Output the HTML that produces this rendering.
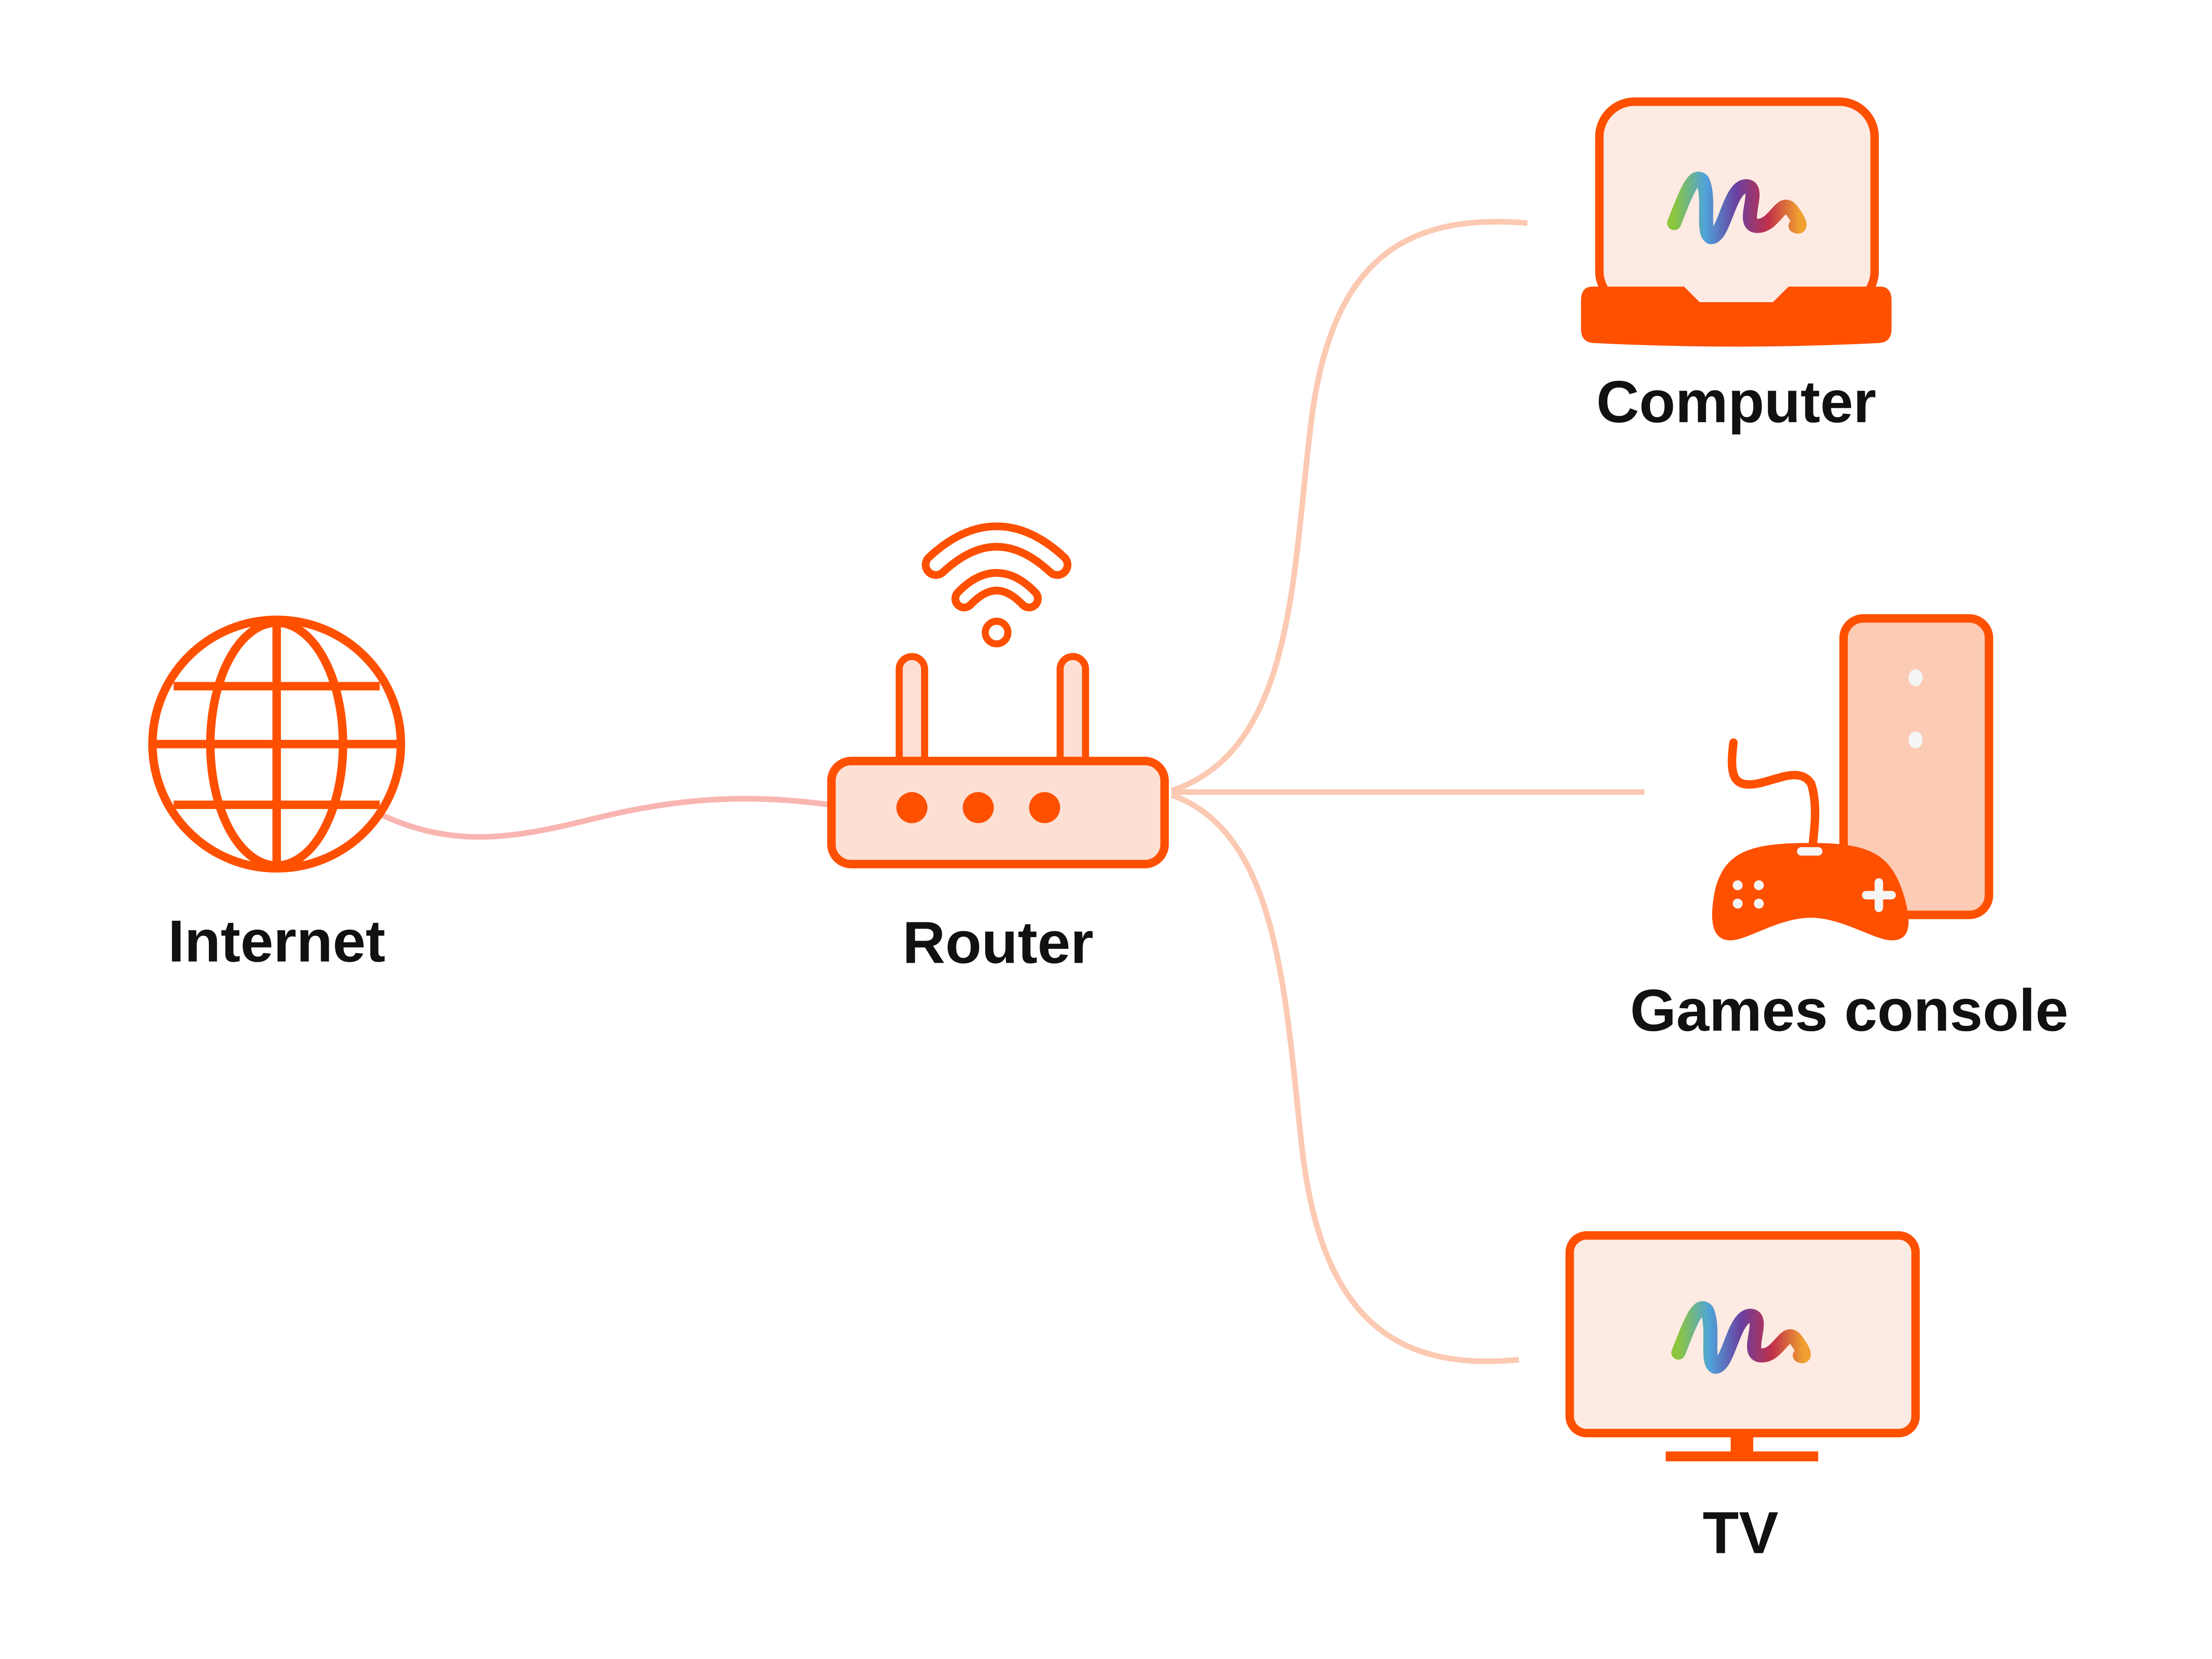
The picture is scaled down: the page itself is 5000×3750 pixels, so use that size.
<!DOCTYPE html>
<html><head><meta charset="utf-8"><style>
html,body{margin:0;padding:0;background:#fff;}
svg{display:block;}
text{font-family:"Liberation Sans",sans-serif;font-weight:bold;fill:#111;text-anchor:middle;}
</style></head><body>
<svg width="5000" height="3750" viewBox="0 0 1567 1175" preserveAspectRatio="none" xmlns="http://www.w3.org/2000/svg">
<defs>
<linearGradient id="lg" x1="0" y1="0" x2="1" y2="0">
<stop offset="0" stop-color="#8cc63f"/><stop offset="0.25" stop-color="#4fa3d9"/><stop offset="0.5" stop-color="#6a3fa0"/><stop offset="0.75" stop-color="#c0304a"/><stop offset="1" stop-color="#f0a030"/>
</linearGradient>
</defs>
<path d="M270,577 C320,600 360,595 420,580 C480,565 530,562 588,570" fill="none" stroke="#f9b5b0" stroke-width="4"/>
<path d="M830,560 C920,530 915,400 930,290 C945,190 990,150 1082,158" fill="none" stroke="#fcc9b2" stroke-width="4"/>
<path d="M830,561 L1165,561" fill="none" stroke="#fcc9b2" stroke-width="4"/>
<path d="M830,563 C905,590 910,700 922,810 C935,930 985,972 1076,963" fill="none" stroke="#fcc9b2" stroke-width="4"/>
<g fill="none" stroke="#ff5000" stroke-width="6">
<circle cx="196" cy="527" r="88"/>
<ellipse cx="196" cy="527" rx="47" ry="86"/>
<line x1="196" y1="441" x2="196" y2="613"/>
<line x1="123" y1="486" x2="269" y2="486"/>
<line x1="108" y1="527" x2="284" y2="527"/>
<line x1="123" y1="570" x2="269" y2="570"/>
</g>
<text x="196" y="681" font-size="42">Internet</text>
<rect x="637" y="465" width="18" height="80" rx="9" fill="#fde0d4" stroke="#ff5000" stroke-width="5"/>
<rect x="751" y="465" width="18" height="80" rx="9" fill="#fde0d4" stroke="#ff5000" stroke-width="5"/>
<rect x="589" y="539" width="236" height="73" rx="14" fill="#fde0d4" stroke="#ff5000" stroke-width="6"/>
<circle cx="646" cy="572" r="11" fill="#ff5000"/>
<circle cx="693" cy="572" r="11" fill="#ff5000"/>
<circle cx="740" cy="572" r="11" fill="#ff5000"/>
<g fill="none" stroke-linecap="round">
<path d="M663,400 Q706,360 749,400" stroke="#ff5000" stroke-width="20"/>
<path d="M663,400 Q706,360 749,400" stroke="#fff" stroke-width="9"/>
<path d="M683,424 Q706,400 729,424" stroke="#ff5000" stroke-width="18"/>
<path d="M683,424 Q706,400 729,424" stroke="#fff" stroke-width="7"/>
</g>
<circle cx="706" cy="448" r="8" fill="#fff" stroke="#ff5000" stroke-width="5"/>
<text x="707" y="682" font-size="42">Router</text>
<rect x="1133" y="72" width="195" height="145" rx="25" fill="#fdeae2" stroke="#ff5000" stroke-width="6"/>
<path d="M1128,203 H1193 L1205,215 H1255 L1267,203 H1332 Q1340,203 1340,213 V233 Q1340,243 1330,243 Q1230,248 1130,243 Q1120,243 1120,233 V213 Q1120,203 1128,203 Z" fill="#ff5000"/>
<path d="M1186,158 C1195,135 1200,122 1206,128 C1212,140 1205,165 1212,168 C1222,168 1225,130 1238,132 C1248,134 1232,160 1245,160 C1258,160 1262,138 1270,150 C1276,158 1276,162 1272,160" fill="none" stroke="url(#lg)" stroke-width="10" stroke-linecap="round" stroke-linejoin="round"/>
<text x="1230" y="299" font-size="42">Computer</text>
<rect x="1306" y="438" width="103" height="210" rx="14" fill="#fccbb4" stroke="#ff5000" stroke-width="6"/>
<ellipse cx="1357" cy="480" rx="5" ry="6" fill="#f5f5f5"/>
<ellipse cx="1357" cy="524" rx="5" ry="6" fill="#f5f5f5"/>
<path d="M1228,526 C1225,550 1228,558 1245,555 C1260,552 1275,543 1283,555 C1288,570 1285,590 1284,600" fill="none" stroke="#ff5000" stroke-width="6" stroke-linecap="round"/>
<path d="M1283,597 C1325,597 1340,605 1349,635 C1356,660 1350,666 1340,666 C1328,666 1305,650 1283,650 C1260,650 1238,666 1226,666 C1214,666 1210,655 1215,630 C1222,603 1240,597 1283,597 Z" fill="#ff5000"/>
<rect x="1273" y="600" width="18" height="6" rx="3" fill="#f5f5f5"/>
<circle cx="1231" cy="627" r="3.5" fill="#f5f5f5"/><circle cx="1246" cy="627" r="3.5" fill="#f5f5f5"/>
<circle cx="1231" cy="640" r="3.5" fill="#f5f5f5"/><circle cx="1246" cy="640" r="3.5" fill="#f5f5f5"/>
<rect x="1328" y="622" width="6" height="24" rx="3" fill="#f5f5f5"/>
<rect x="1319" y="631" width="24" height="6" rx="3" fill="#f5f5f5"/>
<text x="1310" y="730" font-size="42">Games console</text>
<rect x="1112" y="875" width="245" height="140" rx="12" fill="#fdeae2" stroke="#ff5000" stroke-width="6"/>
<rect x="1226" y="1015" width="16" height="14" fill="#ff5000"/>
<rect x="1180" y="1028" width="108" height="7" fill="#ff5000"/>
<path d="M1189,958 C1198,935 1203,922 1209,928 C1215,940 1208,965 1215,968 C1225,968 1228,930 1241,932 C1251,934 1235,960 1248,960 C1261,960 1265,938 1273,950 C1279,958 1279,962 1275,960" fill="none" stroke="url(#lg)" stroke-width="10" stroke-linecap="round" stroke-linejoin="round"/>
<text x="1233" y="1100" font-size="42">TV</text>
</svg>
</body></html>
